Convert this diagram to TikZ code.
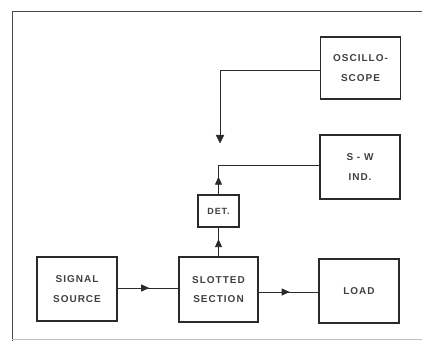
\documentclass[tikz,border=0pt]{standalone}
\usepackage{fontspec}
\setmainfont{Liberation Sans}[LetterSpace=10]
\usetikzlibrary{decorations.markings,arrows.meta}
\definecolor{ink}{HTML}{2A2A2A}
\definecolor{txt}{HTML}{404040}
\tikzset{
  blk/.style={draw=ink,line width=1.3pt,minimum width=#1,inner sep=0pt,anchor=center},
  lbl/.style={text=txt,font=\bfseries\fontsize{10}{19.5}\selectfont,align=center},
  conn/.style={draw=ink,line width=0.8pt},
  midarrow/.style={postaction={decorate},decoration={markings,
     mark=at position #1 with {\arrow{Triangle[length=8pt,width=7pt]}}}},
}
\begin{document}
\begin{tikzpicture}[x=1pt,y=-1pt]
\useasboundingbox (0,0) rectangle (422,341);
% frame
\draw[ink!85,line width=1pt] (422,11) -- (12,11) -- (12,341);
\draw[ink!30,line width=0.6pt] (12,339) -- (422,339);
% boxes
\node[blk=80pt,minimum height=62pt] (osc) at (360.5,68) {};
\node[blk=80pt,minimum height=64pt] (sw) at (360,167) {};
\node[blk=41pt,minimum height=32pt] (det) at (218.5,211) {};
\node[blk=80pt,minimum height=64pt] (sig) at (77,289) {};
\node[blk=79pt,minimum height=65pt] (slot) at (218.5,289.5) {};
\node[blk=80pt,minimum height=64pt] (load) at (359,291) {};
% labels
\node[lbl] at (osc) {OSCILLO-\\SCOPE};
\node[lbl] at (sw) {S - W\\IND.};
\node[lbl,font=\bfseries\fontsize{9}{10}\selectfont] at (det) {DET.};
\node[lbl] at (sig) {SIGNAL\\SOURCE};
\node[lbl] at (slot) {SLOTTED\\SECTION};
\node[lbl] at (load) {LOAD};
% connectors
\coordinate (oscend) at (220,142);
\coordinate (bend) at (218.5,165);
\draw[conn] (osc.west |- 0,70) -| (oscend);
\draw[fill=ink,draw=ink] (216,135) -- (224,135) -- (220,143) -- cycle;
\draw[conn,midarrow=0.52] (sig.east |- 0,288) -- (slot.west |- 0,288);
\draw[conn,midarrow=0.52] (slot.east |- 0,292) -- (load.west |- 0,292);
\draw[conn,midarrow=0.6] (slot.north) -- (det.south);
\draw[conn,midarrow=0.6] (det.north) -- (bend);
\draw[conn] (bend) -- (sw.west |- bend);
\end{tikzpicture}
\end{document}
